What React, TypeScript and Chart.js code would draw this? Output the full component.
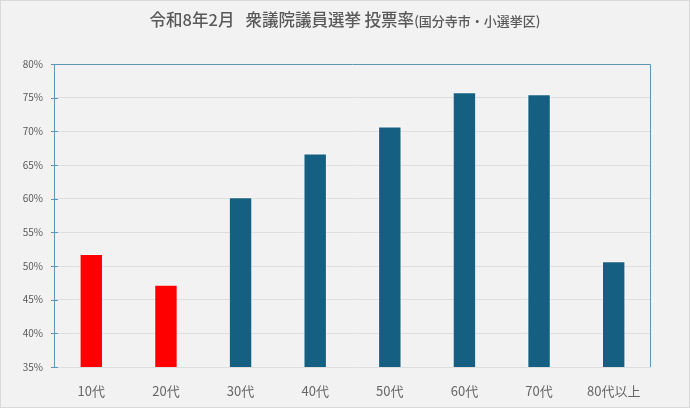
import React, { useEffect, useRef } from 'react';
import { Chart, registerables } from 'chart.js';

Chart.register(...registerables);

// 年代別の投票率 (%)
const ageGroups: string[] = ['10代', '20代', '30代', '40代', '50代', '60代', '70代', '80代以上'];
const turnout: number[] = [51.8, 47.2, 60.2, 66.7, 70.7, 75.8, 75.5, 50.7];
// 赤で強調する年代
const highlighted: string[] = ['10代', '20代'];

const barBlue = '#156082';
const barRed = '#ff0000';
const frameBlue = '#5f96b6';

// plot area frame (left, top, right) and the little ticks crossing the y axis
const framePlugin = {
  id: 'plotFrame',
  afterDraw(chart: any) {
    const { ctx, chartArea, scales } = chart;
    const { left, right, top, bottom } = chartArea;
    const y = scales.y;
    ctx.save();
    ctx.strokeStyle = frameBlue;
    ctx.lineWidth = 1;
    ctx.beginPath();
    ctx.moveTo(left + 0.5, bottom);
    ctx.lineTo(left + 0.5, top + 0.5);
    ctx.lineTo(right - 0.5, top + 0.5);
    ctx.lineTo(right - 0.5, bottom);
    y.ticks.forEach((_t: any, i: number) => {
      const py = Math.round(y.getPixelForTick(i)) + 0.5;
      ctx.moveTo(left - 3, py);
      ctx.lineTo(left + 4, py);
    });
    ctx.stroke();
    ctx.restore();
  },
};

const App: React.FC = () => {
  const canvasRef = useRef<HTMLCanvasElement>(null);

  useEffect(() => {
    const ctx = canvasRef.current?.getContext('2d');
    if (!ctx) return;
    const chart = new Chart(ctx, {
      type: 'bar',
      data: {
        labels: ageGroups,
        datasets: [
          {
            label: '投票率',
            data: turnout,
            backgroundColor: ageGroups.map((g) => (highlighted.includes(g) ? barRed : barBlue)),
            borderColor: 'rgba(255,255,255,0.5)',
            borderWidth: 1,
            barPercentage: 0.314,
            categoryPercentage: 1,
          },
        ],
      },
      options: {
        responsive: false,
        animation: false,
        layout: { padding: { top: 64, right: 39, left: 0, bottom: 0 } },
        plugins: {
          legend: { display: false },
          title: { display: false },
          tooltip: { enabled: false },
        },
        scales: {
          x: {
            grid: { display: false },
            border: { display: false },
            ticks: {
              color: '#666666',
              padding: 8,
              font: { family: '"Noto Sans CJK JP", sans-serif', size: 13 },
            },
            afterFit: (scale: any) => {
              scale.height = 41;
            },
          },
          y: {
            min: 35,
            max: 80,
            grid: { color: '#dedede', drawTicks: false },
            border: { display: false },
            ticks: {
              stepSize: 5,
              padding: 11,
              color: '#595959',
              font: { family: '"Noto Sans CJK JP", sans-serif', size: 10 },
              callback: (v: any) => `${v}%`,
            },
            afterFit: (scale: any) => {
              scale.width = 54;
            },
          },
        },
      },
      plugins: [framePlugin],
    });
    return () => {
      chart.destroy();
    };
  }, []);

  return (
    <div
      style={{
        position: 'absolute',
        left: 0,
        top: 0,
        width: 690,
        height: 408,
        background: '#f2f2f2',
        fontFamily: '"Noto Sans CJK JP", sans-serif',
      }}
    >
      <canvas ref={canvasRef} width={690} height={408} style={{ display: 'block' }} />
      <div
        style={{
          position: 'absolute',
          top: 9,
          left: 0,
          width: 690,
          textAlign: 'center',
          color: '#595959',
          fontSize: 16.5,
          fontWeight: 500,
          lineHeight: '20px',
          whiteSpace: 'pre',
        }}
      >
        令和8年2月<span style={{ marginLeft: 11 }}>衆議院議員選挙 投票率</span>
        <span style={{ fontSize: 13 }}>(国分寺市・小選挙区)</span>
      </div>
      <div
        style={{
          position: 'absolute',
          inset: 0,
          border: '1px solid #d9d9d9',
          boxSizing: 'border-box',
          pointerEvents: 'none',
        }}
      />
    </div>
  );
};

export default App;
